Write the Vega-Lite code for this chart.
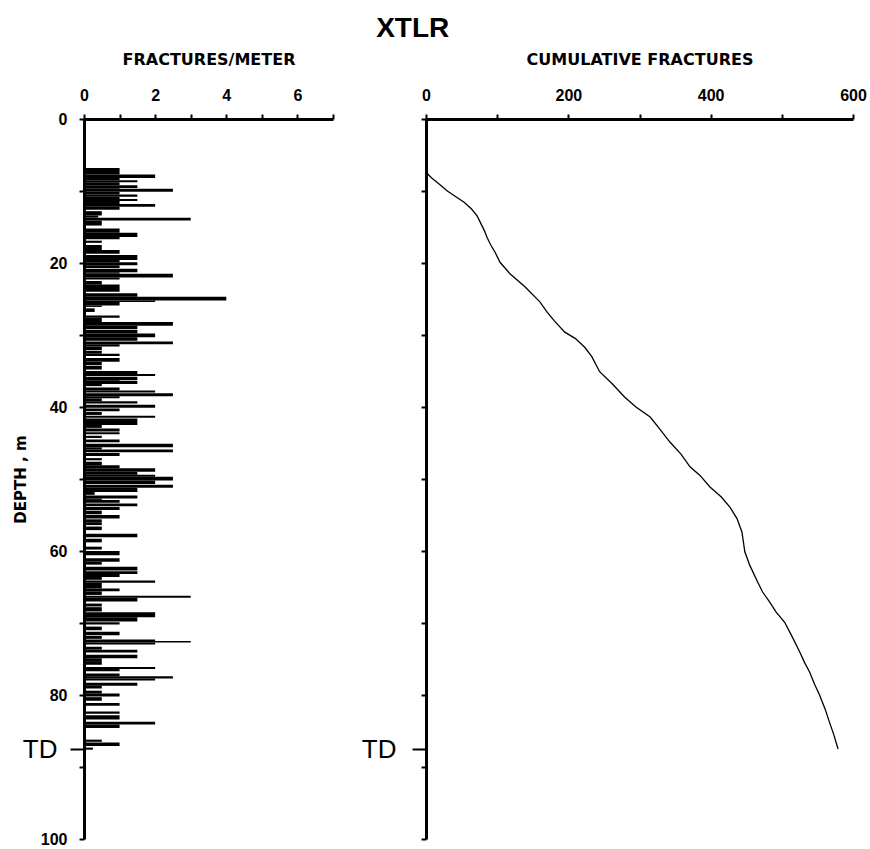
{
"$schema": "https://vega.github.io/schema/vega-lite/v6.json",
"padding": {"left": 13, "top": 15, "right": 10, "bottom": 5},
"title": {"text": "XTLR", "fontSize": 28, "font": "Liberation Sans", "fontWeight": "bold", "anchor": "middle", "offset": 8, "dx": -27, "color": "black"},
"config": {
  "view": {"stroke": null},
  "font": "Liberation Sans",
  "axis": {"grid": false, "domainWidth": 3, "domainColor": "black", "tickColor": "black", "tickWidth": 2, "labelColor": "black", "labelFont": "Liberation Sans", "labelFontWeight": "bold", "labelFontSize": 16, "titleColor": "black", "titleFont": "DejaVu Sans", "titleFontWeight": "bold", "titleFontSize": 16, "labelFlush": false, "labelOverlap": false}
},
"bounds": "flush",
"spacing": 93,
"datasets": {
  "bars": [
    {"top":6.8,"bottom":7.7,"fpm":1.0},{"top":7.7,"bottom":8.2,"fpm":2.0},{"top":8.2,"bottom":8.5,"fpm":1.0},{"top":8.5,"bottom":8.8,"fpm":1.5},{"top":8.8,"bottom":9.2,"fpm":1.0},{"top":9.2,"bottom":9.6,"fpm":1.5},{"top":9.6,"bottom":9.7,"fpm":1.0},{"top":9.7,"bottom":10.1,"fpm":2.5},{"top":10.1,"bottom":10.5,"fpm":1.0},{"top":10.5,"bottom":10.8,"fpm":1.5},{"top":10.8,"bottom":11.1,"fpm":1.0},{"top":11.1,"bottom":11.4,"fpm":1.5},{"top":11.4,"bottom":11.8,"fpm":1.0},{"top":11.8,"bottom":12.2,"fpm":2.0},{"top":12.2,"bottom":12.6,"fpm":1.0},
    {"top":12.8,"bottom":13.4,"fpm":0.5},{"top":13.4,"bottom":13.7,"fpm":0.4},{"top":13.7,"bottom":14.1,"fpm":3.0},{"top":14.1,"bottom":14.8,"fpm":0.5},{"top":15.2,"bottom":15.8,"fpm":1.0},{"top":15.8,"bottom":16.4,"fpm":1.5},{"top":16.4,"bottom":16.7,"fpm":1.0},{"top":16.9,"bottom":17.2,"fpm":0.5},{"top":17.5,"bottom":18.2,"fpm":0.5},{"top":18.2,"bottom":18.7,"fpm":1.0},{"top":18.9,"bottom":19.6,"fpm":1.5},{"top":19.6,"bottom":19.9,"fpm":1.0},
    {"top":19.9,"bottom":20.3,"fpm":1.5},{"top":20.3,"bottom":20.7,"fpm":1.0},{"top":20.8,"bottom":21.3,"fpm":1.5},{"top":21.3,"bottom":21.5,"fpm":1.0},{"top":21.5,"bottom":22.0,"fpm":2.5},{"top":22.0,"bottom":22.3,"fpm":1.0},{"top":22.5,"bottom":23.0,"fpm":0.5},{"top":23.0,"bottom":24.0,"fpm":1.0},{"top":24.2,"bottom":24.7,"fpm":1.5},{"top":24.7,"bottom":25.2,"fpm":4.0},{"top":25.2,"bottom":25.4,"fpm":2.0},{"top":25.4,"bottom":25.9,"fpm":1.0},{"top":25.9,"bottom":26.1,"fpm":0.5},{"top":26.3,"bottom":26.8,"fpm":0.3},{"top":27.3,"bottom":27.6,"fpm":1.0},{"top":27.6,"bottom":28.2,"fpm":0.5},{"top":28.2,"bottom":28.7,"fpm":2.5},{"top":28.7,"bottom":29.2,"fpm":1.5},{"top":29.3,"bottom":29.8,"fpm":1.5},{"top":29.8,"bottom":30.3,"fpm":2.0},{"top":30.3,"bottom":30.8,"fpm":1.5},{"top":30.9,"bottom":31.3,"fpm":2.5},{"top":31.3,"bottom":31.6,"fpm":1.0},{"top":31.6,"bottom":32.1,"fpm":0.5},{"top":32.2,"bottom":32.6,"fpm":0.5},{"top":32.6,"bottom":32.9,"fpm":1.0},{"top":33.2,"bottom":33.7,"fpm":1.0},
    {"top":33.75,"bottom":34.2,"fpm":0.5},{"top":34.3,"bottom":34.8,"fpm":0.5},{"top":35.0,"bottom":35.4,"fpm":1.5},{"top":35.4,"bottom":35.7,"fpm":2.0},{"top":35.8,"bottom":36.3,"fpm":1.5},{"top":36.3,"bottom":36.4,"fpm":1.0},{"top":36.4,"bottom":36.8,"fpm":1.5},{"top":36.8,"bottom":37.1,"fpm":0.5},{"top":37.3,"bottom":37.7,"fpm":1.0},{"top":37.7,"bottom":38.0,"fpm":2.0},{"top":38.1,"bottom":38.5,"fpm":2.5},{"top":38.5,"bottom":38.8,"fpm":1.0},{"top":38.8,"bottom":39.2,"fpm":0.5},{"top":39.2,"bottom":39.5,"fpm":1.5},{"top":39.7,"bottom":40.1,"fpm":2.0},{"top":40.2,"bottom":40.6,"fpm":1.0},{"top":40.7,"bottom":41.1,"fpm":0.5},{"top":41.2,"bottom":41.5,"fpm":2.0},{"top":41.6,"bottom":42.1,"fpm":1.5},{"top":42.1,"bottom":42.5,"fpm":1.5},{"top":42.5,"bottom":42.9,"fpm":0.5},{"top":43.0,"bottom":43.4,"fpm":1.0},{"top":43.5,"bottom":43.8,"fpm":1.0},{"top":44.0,"bottom":44.3,"fpm":0.5},{"top":44.5,"bottom":44.9,"fpm":1.0},{"top":45.1,"bottom":45.6,"fpm":2.5},{"top":45.6,"bottom":45.9,"fpm":0.5},{"top":45.9,"bottom":46.3,"fpm":2.5},{"top":46.4,"bottom":46.8,"fpm":1.0},{"top":47.1,"bottom":47.4,"fpm":0.5},
    {"top":47.6,"bottom":48.1,"fpm":0.5},{"top":48.1,"bottom":48.5,"fpm":1.0},{"top":48.5,"bottom":49.0,"fpm":2.0},{"top":49.0,"bottom":49.4,"fpm":1.5},{"top":49.4,"bottom":49.7,"fpm":2.0},{"top":49.7,"bottom":50.2,"fpm":2.5},{"top":50.2,"bottom":50.7,"fpm":2.0},{"top":50.8,"bottom":51.2,"fpm":2.5},{"top":51.2,"bottom":51.8,"fpm":1.5},{"top":51.8,"bottom":52.2,"fpm":0.3},{"top":52.3,"bottom":52.7,"fpm":1.5},{"top":52.7,"bottom":52.9,"fpm":0.5},{"top":52.9,"bottom":53.3,"fpm":1.0},{"top":53.4,"bottom":53.8,"fpm":1.5},{"top":53.9,"bottom":54.3,"fpm":1.0},{"top":54.4,"bottom":54.9,"fpm":0.5},{"top":55.0,"bottom":55.5,"fpm":1.0},{"top":55.6,"bottom":56.0,"fpm":0.5},{"top":56.0,"bottom":56.4,"fpm":0.5},{"top":56.6,"bottom":57.1,"fpm":0.5},{"top":57.6,"bottom":58.1,"fpm":1.5},{"top":58.3,"bottom":58.8,"fpm":0.5},{"top":59.4,"bottom":59.8,"fpm":0.5},{"top":60.0,"bottom":60.6,"fpm":1.0},{"top":61.0,"bottom":61.5,"fpm":1.0},
    {"top":61.5,"bottom":61.9,"fpm":0.5},{"top":62.2,"bottom":62.7,"fpm":1.5},{"top":62.8,"bottom":63.2,"fpm":1.5},{"top":63.2,"bottom":63.6,"fpm":1.0},{"top":63.6,"bottom":64.0,"fpm":0.5},{"top":64.1,"bottom":64.4,"fpm":2.0},{"top":64.4,"bottom":65.2,"fpm":0.5},{"top":65.2,"bottom":65.6,"fpm":1.0},{"top":65.6,"bottom":66.1,"fpm":0.5},{"top":66.2,"bottom":66.5,"fpm":3.0},{"top":66.5,"bottom":67.0,"fpm":1.5},{"top":67.3,"bottom":67.7,"fpm":0.5},{"top":67.8,"bottom":68.4,"fpm":0.5},{"top":68.5,"bottom":69.2,"fpm":2.0},{"top":69.2,"bottom":69.8,"fpm":1.5},{"top":69.9,"bottom":70.2,"fpm":1.0},{"top":70.5,"bottom":71.0,"fpm":0.5},{"top":71.2,"bottom":71.7,"fpm":1.0},{"top":71.8,"bottom":72.2,"fpm":0.5},{"top":72.3,"bottom":72.5,"fpm":2.0},{"top":72.5,"bottom":72.7,"fpm":3.0},{"top":72.7,"bottom":73.0,"fpm":2.0},{"top":73.3,"bottom":73.7,"fpm":0.5},{"top":73.7,"bottom":74.1,"fpm":1.5},{"top":74.4,"bottom":74.9,"fpm":1.5},{"top":74.9,"bottom":75.4,"fpm":0.5},
    {"top":75.4,"bottom":75.8,"fpm":0.5},{"top":76.1,"bottom":76.4,"fpm":2.0},{"top":76.4,"bottom":76.7,"fpm":1.0},{"top":77.0,"bottom":77.4,"fpm":1.0},{"top":77.4,"bottom":77.7,"fpm":2.5},{"top":77.7,"bottom":78.0,"fpm":2.0},{"top":78.3,"bottom":78.7,"fpm":1.5},{"top":78.7,"bottom":79.1,"fpm":0.5},{"top":79.4,"bottom":79.8,"fpm":0.5},{"top":79.8,"bottom":80.2,"fpm":1.0},{"top":80.3,"bottom":80.8,"fpm":0.5},{"top":81.1,"bottom":81.5,"fpm":1.0},{"top":82.3,"bottom":82.6,"fpm":1.0},{"top":82.8,"bottom":83.4,"fpm":1.0},{"top":83.7,"bottom":84.1,"fpm":2.0},{"top":84.1,"bottom":84.6,"fpm":1.0},{"top":86.2,"bottom":86.5,"fpm":0.5},{"top":86.6,"bottom":87.1,"fpm":1.0},{"top":87.3,"bottom":87.6,"fpm":0.25}
  ],
  "cum": [
    {"depth":7.4,"count":0},{"depth":8.2,"count":8},{"depth":9.0,"count":18},{"depth":10.0,"count":30},{"depth":10.8,"count":42},{"depth":11.6,"count":54},{"depth":12.5,"count":64},{"depth":13.5,"count":72},{"depth":14.5,"count":77},{"depth":15.5,"count":82},{"depth":16.5,"count":86},{"depth":17.5,"count":91},{"depth":18.5,"count":97},{"depth":19.9,"count":104},{"depth":21.5,"count":118},{"depth":23.3,"count":139},{"depth":25.4,"count":160},{"depth":26.8,"count":170},{"depth":28,"count":180},{"depth":29.6,"count":195},{"depth":30.5,"count":210},{"depth":31.7,"count":223},{"depth":33,"count":233},{"depth":35.1,"count":244},{"depth":36.8,"count":262},{"depth":38.6,"count":279},{"depth":40,"count":295},{"depth":41.4,"count":315},{"depth":43,"count":328},{"depth":44.9,"count":343},{"depth":46.5,"count":358},{"depth":48.3,"count":371},{"depth":49.5,"count":385},{"depth":51.1,"count":399},{"depth":52.5,"count":415},{"depth":53.9,"count":427},{"depth":55.5,"count":437},{"depth":57.4,"count":444},{"depth":60.1,"count":448},{"depth":62,"count":455},{"depth":64.3,"count":466},{"depth":65.7,"count":473},{"depth":67.1,"count":483},{"depth":68.5,"count":492},{"depth":69.9,"count":504},{"depth":72,"count":515},{"depth":74,"count":525},{"depth":75.5,"count":532},{"depth":76.8,"count":539},{"depth":78.5,"count":546},{"depth":80,"count":553},{"depth":82,"count":561},{"depth":83.8,"count":567},{"depth":85.5,"count":573},{"depth":87.5,"count":579}
  ]
},
"hconcat": [
  {
    "width": 249, "height": 720,
    "data": {"name": "bars"},
    "mark": {"type": "bar", "color": "black"},
    "encoding": {
      "x": {"field": "fpm", "type": "quantitative", "scale": {"domain": [0, 7], "nice": false},
        "axis": {"orient": "top", "title": "FRACTURES/METER", "values": [0,1,2,3,4,5,6,7], "labelExpr": "datum.value % 2 == 0 ? datum.label : ''", "tickSize": 5, "labelPadding": 11, "titlePadding": 20}},
      "x2": {"datum": 0},
      "y": {"field": "top", "type": "quantitative", "scale": {"domain": [0, 100], "reverse": true, "nice": false},
        "axis": {"title": "DEPTH , m", "titleFontSize": 15, "titleX": -56,
          "values": [0,10,20,30,40,50,60,70,80,87.5,90,100],
          "labelExpr": "datum.value == 87.5 ? 'TD' : (datum.value % 20 == 0 ? datum.label : '')",
          "labelFontSize": {"condition": {"test": "datum.value == 87.5", "value": 26}, "value": 16},
          "labelFontWeight": {"condition": {"test": "datum.value == 87.5", "value": "normal"}, "value": "bold"},
          "tickSize": {"condition": {"test": "datum.value == 87.5", "value": 14}, "value": 5},
          "labelPadding": {"condition": {"test": "datum.value == 87.5", "value": 13}, "value": 12}}},
      "y2": {"field": "bottom"}
    }
  },
  {
    "width": 427, "height": 720,
    "data": {"name": "cum"},
    "mark": {"type": "line", "color": "black", "strokeWidth": 1.3},
    "encoding": {
      "x": {"field": "count", "type": "quantitative", "scale": {"domain": [0, 600], "nice": false},
        "axis": {"orient": "top", "title": "CUMULATIVE FRACTURES", "values": [0,100,200,300,400,500,600], "labelExpr": "datum.value % 200 == 0 ? datum.label : ''", "tickSize": 5, "labelPadding": 11, "titlePadding": 20}},
      "y": {"field": "depth", "type": "quantitative", "scale": {"domain": [0, 100], "reverse": true, "nice": false},
        "axis": {"title": null,
          "values": [0,10,20,30,40,50,60,70,80,87.5,90,100],
          "labelExpr": "datum.value == 87.5 ? 'TD' : ''",
          "labelFontSize": {"condition": {"test": "datum.value == 87.5", "value": 26}, "value": 16},
          "labelFontWeight": "normal",
          "tickSize": {"condition": {"test": "datum.value == 87.5", "value": 14}, "value": 5},
          "labelPadding": 16}},
      "order": {"field": "depth", "type": "quantitative"}
    }
  }
]
}
